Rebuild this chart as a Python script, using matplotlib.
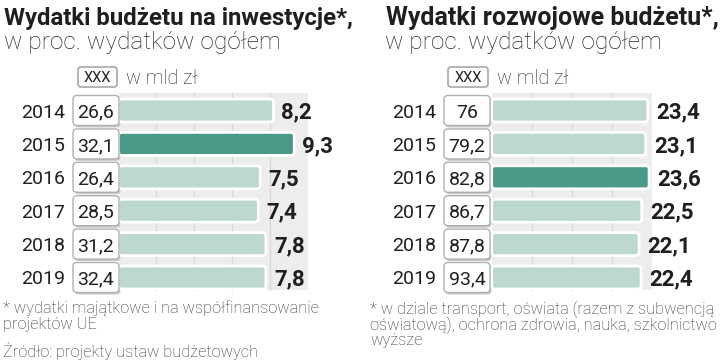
import matplotlib
matplotlib.use("Agg")
import matplotlib.pyplot as plt
from matplotlib import font_manager as fm
from matplotlib.patches import FancyBboxPatch, Rectangle

# dane
years = ["2014", "2015", "2016", "2017", "2018", "2019"]
inv_bln = ["26,6", "32,1", "26,4", "28,5", "31,2", "32,4"]
inv_share = [8.2, 9.3, 7.5, 7.4, 7.8, 7.8]
dev_bln = ["76", "79,2", "82,8", "86,7", "87,8", "93,4"]
dev_share = [23.4, 23.1, 23.6, 22.5, 22.1, 22.4]

inv_title = "Wydatki budżetu na inwestycje*,"
dev_title = "Wydatki rozwojowe budżetu*,"
subtitle = "w proc. wydatków ogółem"
unit = "w mld zł"
inv_note = ["* wydatki majątkowe i na współfinansowanie", "projektów UE"]
dev_note = ["* w dziale transport, oświata (razem z subwencją",
            "oświatową), ochrona zdrowia, nauka, szkolnictwo", "wyższe"]
source = "Źródło: projekty ustaw budżetowych"

LIGHT = "#bdd8d0"
DARK = "#4b9a88"
PANEL = "#eeeded"
GRID = "#d9d9d9"
TXT = "#1f1f1f"

# fonty
avail = {}
for f in fm.fontManager.ttflist:
    avail.setdefault(f.name, []).append(f)

LIGHT_FAM, LIGHT_W = "Liberation Sans", "normal"
for fam in ["Roboto", "Open Sans", "Lato", "Noto Sans"]:
    if any(f.weight == 300 and f.style == "normal" for f in avail.get(fam, [])):
        LIGHT_FAM, LIGHT_W = fam, "light"
        break

COND = "Roboto" if "Roboto" in avail else "Liberation Sans"

W, H = 720, 361
ROW0, ROWH = 110.5, 33.4
BAR_H = 23 / ROWH
BOX_H = 30 / ROWH

fig = plt.figure(figsize=(7.2, 3.61), dpi=100)
fig.patch.set_facecolor("white")
renderer = fig.canvas.get_renderer()


def fit(t, width_px):
    w = t.get_window_extent(renderer).width
    t.set_fontsize(t.get_fontsize() * width_px / w)
    return t


def draw_panel(ax, title, bln, share, hi, sx, x0, xmax, grid, lay, note):
    dx = lambda px: (px - x0) / sx
    dy = lambda py: (py - ROW0) / ROWH
    ax.set_xlim(dx(0), dx(360))
    ax.set_ylim(dy(H), dy(0))
    ax.axis("off")

    # tytuły
    fit(ax.text(lay["title"] / 360, 1 - 25 / H, title, transform=ax.transAxes,
                family=COND, fontweight="bold", fontsize=16.5,
                color=TXT, va="baseline"), lay["title_w"])
    fit(ax.text(lay["sub"] / 360, 1 - 48.5 / H, subtitle, transform=ax.transAxes,
                family=LIGHT_FAM, fontweight=LIGHT_W, fontsize=16, color="#262626",
                va="baseline"), 278)

    # legenda
    lb0, lb1 = lay["legbox"]
    ax.add_patch(FancyBboxPatch((dx(lb0), dy(67)), dx(lb1) - dx(lb0), 20 / ROWH,
                                boxstyle="round,pad=0,rounding_size=%f" % (3 / sx),
                                mutation_aspect=sx / ROWH, fc="white", ec="#a8a8a8",
                                lw=1.2, zorder=3))
    ax.text((dx(lb0) + dx(lb1)) / 2, dy(82.5), "XXX", ha="center", va="baseline",
            family=COND, fontsize=10.5, color=TXT, zorder=4)
    fit(ax.text(dx(lay["unit"]), dy(84), unit, va="baseline", family=LIGHT_FAM,
                fontweight=LIGHT_W, fontsize=14, color="#262626"), 72)

    # tło i siatka
    ax.add_patch(Rectangle((0, dy(93)), xmax, dy(290) - dy(93), fc=PANEL,
                           ec="none", zorder=0))
    for g in grid:
        ax.plot([g, g], [dy(93), dy(290)], color=GRID, lw=1, zorder=1)

    b0, b1 = lay["box"]
    for i, v in enumerate(share):
        # słupek
        ax.add_patch(FancyBboxPatch((0, i - BAR_H / 2), v, BAR_H,
                                    boxstyle="round,pad=0,rounding_size=%f" % (3.5 / sx),
                                    mutation_aspect=sx / ROWH,
                                    fc=DARK if i == hi else LIGHT, ec="white",
                                    lw=2, zorder=3))
        ax.text(v + 8 / sx, i + 8 / ROWH, ("%.1f" % v).replace(".", ","),
                family=COND, fontweight="bold",
                fontsize=16, color=TXT, va="baseline", zorder=4)
        # ramka z kwotą
        ax.add_patch(FancyBboxPatch((dx(b0) + 1.5 / sx, i - BOX_H / 2 + 2 / ROWH),
                                    dx(b1) - dx(b0), BOX_H,
                                    boxstyle="round,pad=0,rounding_size=%f" % (4 / sx),
                                    mutation_aspect=sx / ROWH, fc="#c9c9c9",
                                    ec="none", zorder=2))
        ax.add_patch(FancyBboxPatch((dx(b0), i - BOX_H / 2), dx(b1) - dx(b0), BOX_H,
                                    boxstyle="round,pad=0,rounding_size=%f" % (4 / sx),
                                    mutation_aspect=sx / ROWH, fc="white",
                                    ec="#b0b0b0", lw=1, zorder=3))
        ax.text((dx(b0) + dx(b1)) / 2, i + 7 / ROWH, bln[i], ha="center",
                va="baseline", family=COND, fontsize=14,
                color=TXT, zorder=4)
        ax.text(dx(lay["year"]), i + 7 / ROWH, years[i], ha="right",
                va="baseline", family=COND, fontsize=14, color=TXT)

    # przypis
    for k, line in enumerate(note):
        t = ax.text(lay["note"] / 360, 1 - (lay["note_y"] + k * lay["note_dy"]) / H,
                    line, transform=ax.transAxes, family=LIGHT_FAM,
                    fontweight=LIGHT_W, fontsize=10.5, color="#333333",
                    va="baseline")
        if k == 0:
            fit(t, lay["note_w"])
            fs = t.get_fontsize()
        else:
            t.set_fontsize(fs)
    return fs


axL = fig.add_axes([0, 0, 0.5, 1])
axR = fig.add_axes([0.5, 0, 0.5, 1])

fsL = draw_panel(axL, inv_title, inv_bln, inv_share, 1, 18.9, 118.5, 10,
                 [2, 4, 6, 8],
                 dict(title=4, title_w=349, sub=4, legbox=(78, 117), unit=126,
                      box=(73, 119), year=65, note=3, note_y=313, note_dy=16,
                      note_w=319),
                 inv_note)
axL.text(3 / 360, 1 - 356.5 / H, source, transform=axL.transAxes,
         family=LIGHT_FAM, fontweight=LIGHT_W, fontsize=fsL, color="#333333",
         va="baseline")

draw_panel(axR, dev_title, dev_bln, dev_share, 2, 6.67, 131.7, 24,
           [6, 12, 18],
           dict(title=26, title_w=331, sub=25, legbox=(88, 128), unit=137,
                box=(84, 130), year=76, note=10, note_y=314.5, note_dy=15.5,
                note_w=347),
           dev_note)

fig.savefig("out.png", dpi=100, facecolor="white")
